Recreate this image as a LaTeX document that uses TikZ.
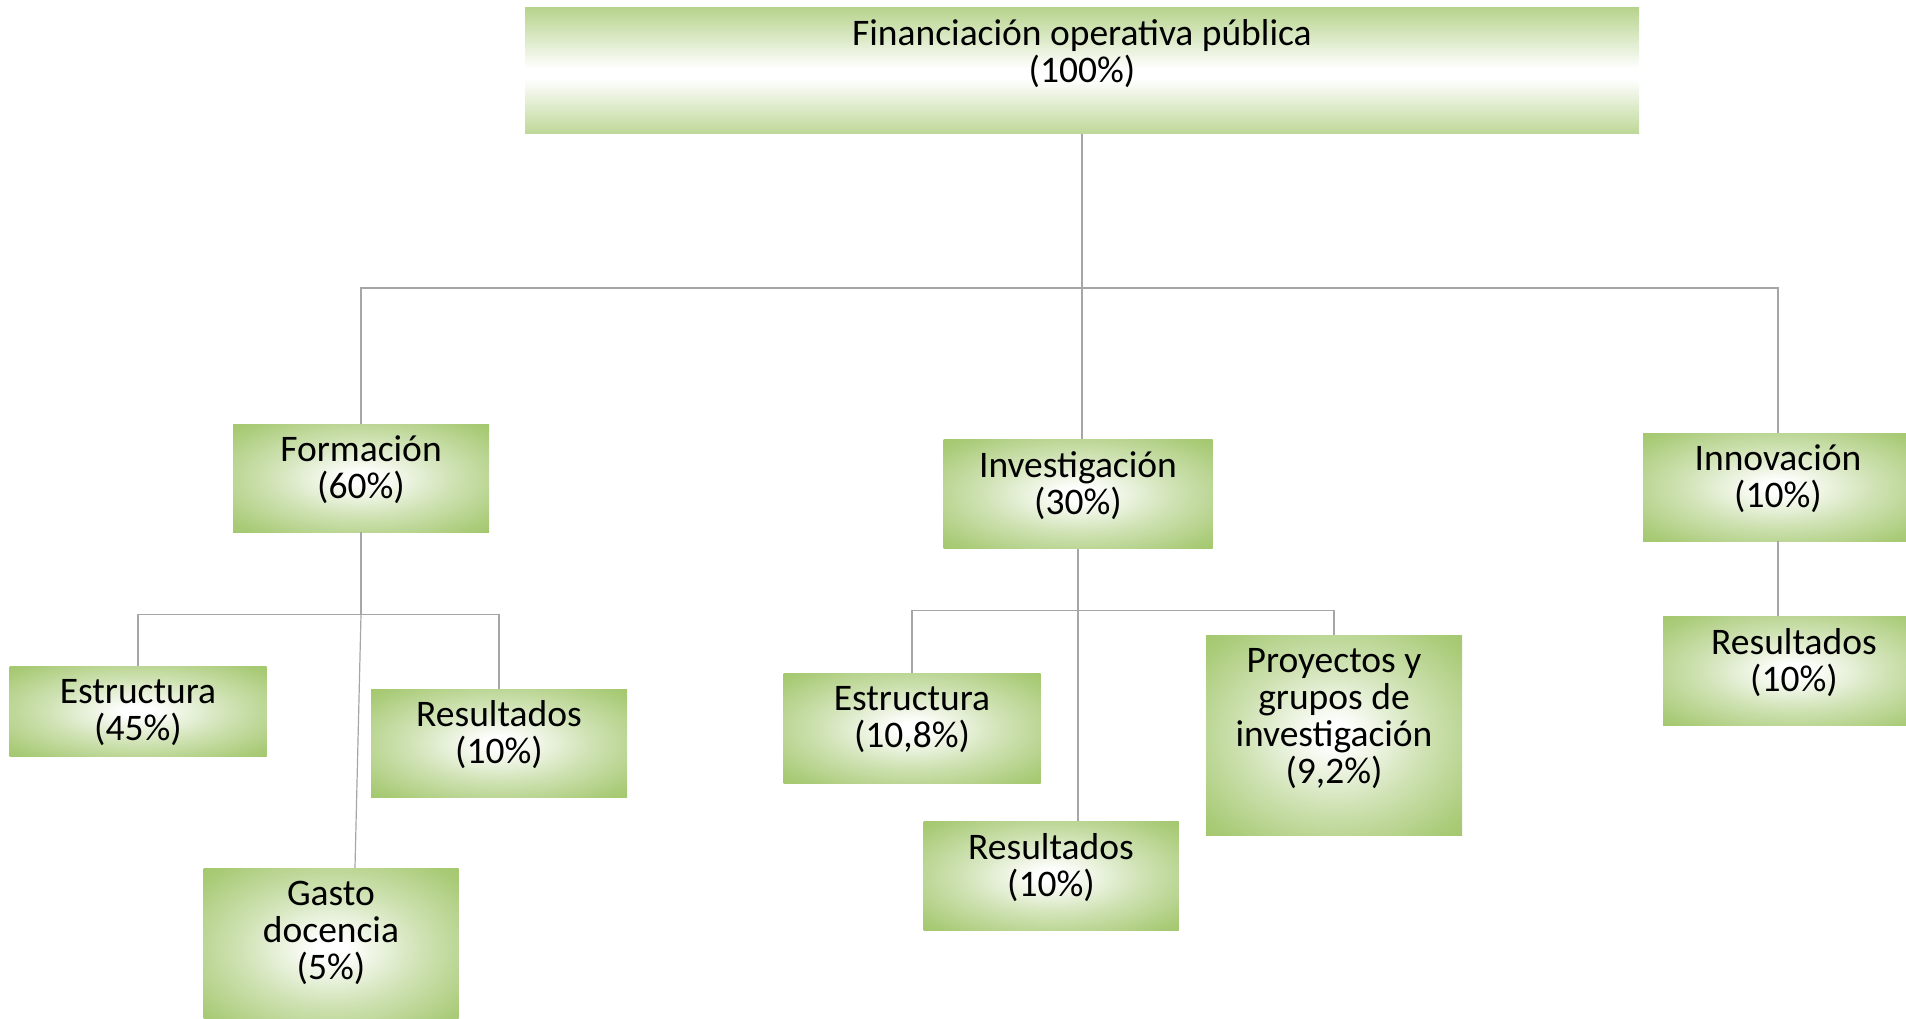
\documentclass[tikz,border=0pt]{standalone}
\usepackage{fontspec}
\setmainfont{Carlito}
\definecolor{leafgreen}{RGB}{148,190,86}
\definecolor{linkgray}{RGB}{166,166,166}
\pgfdeclareradialshading{leafglow}{\pgfpoint{0bp}{0bp}}{color(0bp)=(white); color(3bp)=(white); color(18bp)=(leafgreen!45); color(32bp)=(leafgreen!80); color(44bp)=(leafgreen); color(70bp)=(leafgreen)}
\pgfdeclareverticalshading{leafband}{100bp}{color(0bp)=(leafgreen); color(22bp)=(leafgreen!70); color(47bp)=(white); color(51bp)=(white); color(76bp)=(leafgreen!70); color(100bp)=(leafgreen)}
\tikzset{
  leaf/.style={rectangle, shade, shading=leafglow, minimum width=256, minimum height=108, inner sep=0pt},
  link/.style={draw=linkgray, line width=1.2pt},
  every label/.style={align=center, font=\fontsize{37.5}{37}\selectfont}
}

\begin{document}
\begin{tikzpicture}[x=1pt,y=-1pt]
  \useasboundingbox (0,0) rectangle (1906,1019);

  \node[leaf, shading=leafband, minimum width=1114, minimum height=126, label={[yshift=17pt]center:{Financiación operativa pública\\(100\%)}}] (fin) at (1082,71) {};

  \node[leaf, label={[yshift=8pt]center:{Formación\\(60\%)}}] (form) at (361,478) {};
  \node[leaf, minimum width=269, minimum height=109, label={[yshift=8pt]center:{Investigación\\(30\%)}}] (inv) at (1078,494) {};
  \node[leaf, minimum width=270, label={[yshift=8pt]center:{Innovación\\(10\%)}}] (inno) at (1778,487) {};

  \node[leaf, minimum width=257, minimum height=90, label={[yshift=-2pt]center:{Estructura\\(45\%)}}] (formEst) at (138,711) {};
  \node[leaf, label={[yshift=8pt]center:{Resultados\\(10\%)}}] (formRes) at (499,743) {};
  \node[leaf, minimum width=255, minimum height=160, label={[yshift=15pt]center:{Gasto\\docencia\\(5\%)}}] (formGas) at (331,948) {};

  \node[leaf, minimum width=257, minimum height=110, label={[yshift=8pt]center:{Estructura\\(10,8\%)}}] (invEst) at (912,728) {};
  \node[leaf, minimum width=255, minimum height=109, label={[yshift=8pt]center:{Resultados\\(10\%)}}] (invRes) at (1051,876) {};
  \node[leaf, minimum height=200, label={[yshift=16pt]center:{Proyectos y\\grupos de\\investigación\\(9,2\%)}}] (invPro) at (1334,735) {};

  \node[leaf, minimum width=262, minimum height=109, label={[yshift=8pt]center:{Resultados\\(10\%)}}] (innoRes) at (1794,671) {};

  \coordinate (split) at (1082,288);
  \draw[link] (fin.south) -- (split);
  \draw[link] (split) -| (form.north);
  \draw[link] (split) -| (inno.north);
  \draw[link] (split) -- (split |- inv.north);

  \coordinate (formSplit) at ([yshift=-82pt]form.south);
  \draw[link] (form.south) -- (formSplit);
  \draw[link] (formSplit) -| (formEst.north);
  \draw[link] (formSplit) -| (formRes.north);
  \draw[link] (formSplit) -- ([xshift=24pt]formGas.north);

  \coordinate (invSplit) at ([yshift=-62pt]inv.south);
  \draw[link] (inv.south) -- (invSplit);
  \draw[link] (invSplit) -| (invEst.north);
  \draw[link] (invSplit) -| (invPro.north);
  \draw[link] (invSplit) -- (invSplit |- invRes.north);

  \draw[link] (inno.south) -- (inno.south |- innoRes.north);
\end{tikzpicture}
\end{document}
